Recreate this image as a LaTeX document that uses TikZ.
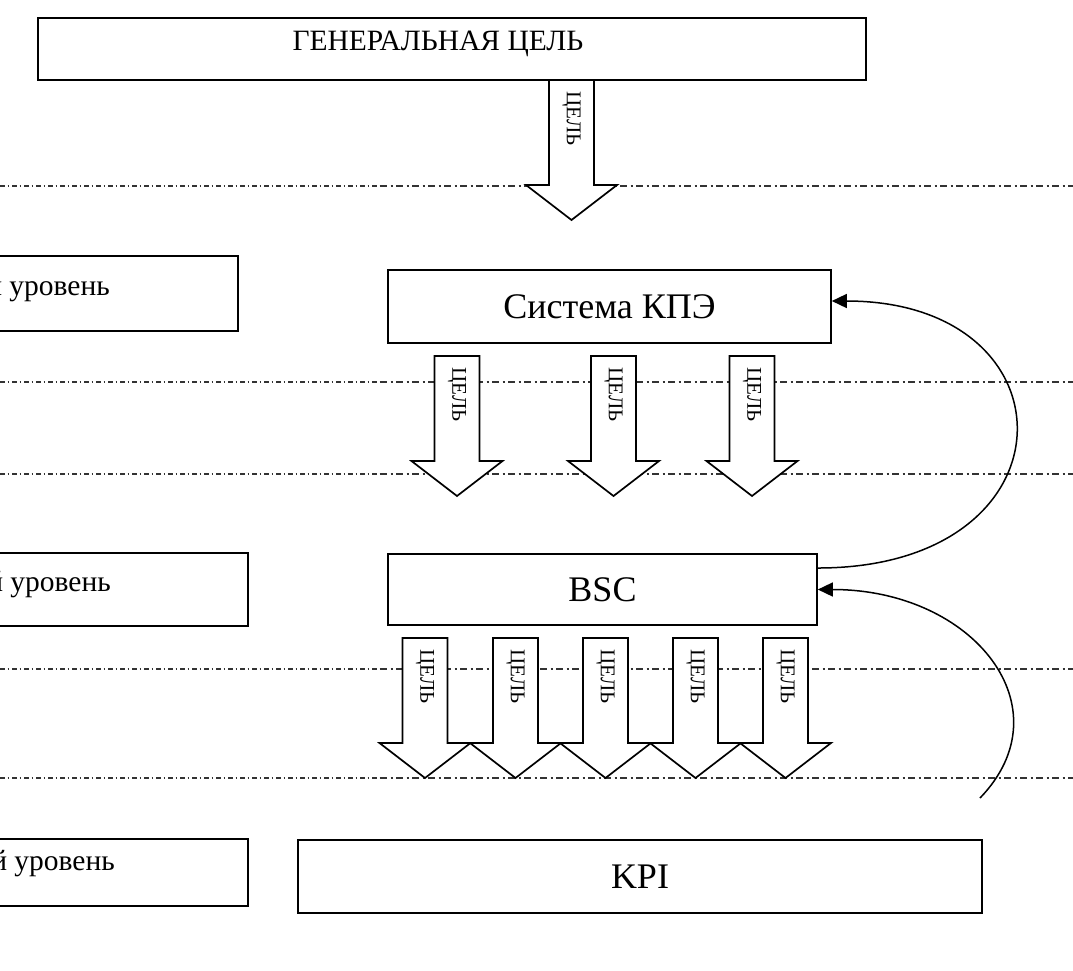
\documentclass[tikz,border=0pt]{standalone}
\usepackage{fontspec}
\setmainfont{Liberation Serif}
\usetikzlibrary{arrows.meta}
\tikzset{
  box/.style={draw, line width=1.6pt, rectangle, inner sep=0pt, fill=white},
  levelline/.style={draw=black!80, line width=1.2pt},
  finedash/.style={dash pattern=on 4.5pt off 3pt on 1.5pt off 3pt},
  coarsedash/.style={dash pattern=on 7pt off 3.5pt on 2pt off 3.5pt},
  goalshape/.style={draw, fill=white, line width=1.7pt, line join=miter},
  goallabel/.style={font=\fontsize{21}{21}\selectfont, rotate=-90, anchor=west, inner sep=0pt},
  bigtext/.style={font=\fontsize{36}{36}\selectfont},
  midtext/.style={font=\fontsize{29.5}{29.5}\selectfont, inner sep=0pt},
  lvltext/.style={font=\fontsize{29.5}{29.5}\selectfont, anchor=base east, inner sep=0pt},
  feedback/.style={line width=1.5pt, -{Triangle[length=15pt,width=14pt]}},
}
% #1 name, #2 centre x, #3 top y (downwards)
\newcommand\goalarrow[3]{%
  \draw[goalshape] ({#2-22.5},{-#3}) -- ({#2+22.5},{-#3}) -- ({#2+22.5},{-#3-105})
    -- ({#2+45.5},{-#3-105}) -- ({#2},{-#3-140}) -- ({#2-45.5},{-#3-105})
    -- ({#2-22.5},{-#3-105}) -- cycle;
  \node[goallabel] (#1) at ({#2},{-#3-11.5}) {ЦЕЛЬ};
}
\begin{document}
\begin{tikzpicture}[x=1pt,y=1pt]
\useasboundingbox (0,0) rectangle (1073,-970);
\clip (0,0) rectangle (1073,-970);

% level separators
\foreach \yy in {186,382,474,669,778}{
  \draw[levelline, finedash] (0,-\yy) -- (380,-\yy);
  \draw[levelline, coarsedash] (380,-\yy) -- (1073,-\yy);
}

% boxes
\node[box, minimum width=828pt, minimum height=62pt] (gen) at (452,-49) {};
\node[midtext, anchor=base] (gent) at (438,-50) {ГЕНЕРАЛЬНАЯ ЦЕЛЬ};

\node[box, minimum width=300pt, minimum height=75pt] (lv1) at (88,-293.5) {};
\node[lvltext] (lv1t) at (110,-295) {й уровень};
\node[box, minimum width=310pt, minimum height=73pt] (lv2) at (93,-589.5) {};
\node[lvltext] (lv2t) at (111,-591) {й уровень};
\node[box, minimum width=310pt, minimum height=67pt] (lv3) at (93,-872.5) {};
\node[lvltext] (lv3t) at (115,-870) {й уровень};

\node[box, bigtext, minimum width=443pt, minimum height=73pt] (kpe) at (609.5,-306.5) {Система КПЭ};
\node[box, bigtext, minimum width=429pt, minimum height=71pt] (bsc) at (602.5,-589.5) {BSC};
\node[box, bigtext, minimum width=684pt, minimum height=73pt] (kpi) at (640,-876.5) {KPI};

% goal arrows
\goalarrow{g0}{571.5}{80}
\goalarrow{g1}{457}{356}
\goalarrow{g2}{613.5}{356}
\goalarrow{g3}{752}{356}
\goalarrow{h1}{425}{638}
\goalarrow{h2}{515.5}{638}
\goalarrow{h3}{605.5}{638}
\goalarrow{h4}{695.5}{638}
\goalarrow{h5}{785.5}{638}

% feedback curves
\draw[feedback] ([yshift=21.5pt]bsc.east) .. controls +(261,0) and +(247,0) .. ([yshift=5.5pt]kpe.east);
\coordinate (c2) at (980,-798);
\draw[feedback] (c2) .. controls +(87,90) and +(156,0) .. (bsc.east);
\end{tikzpicture}
\end{document}
